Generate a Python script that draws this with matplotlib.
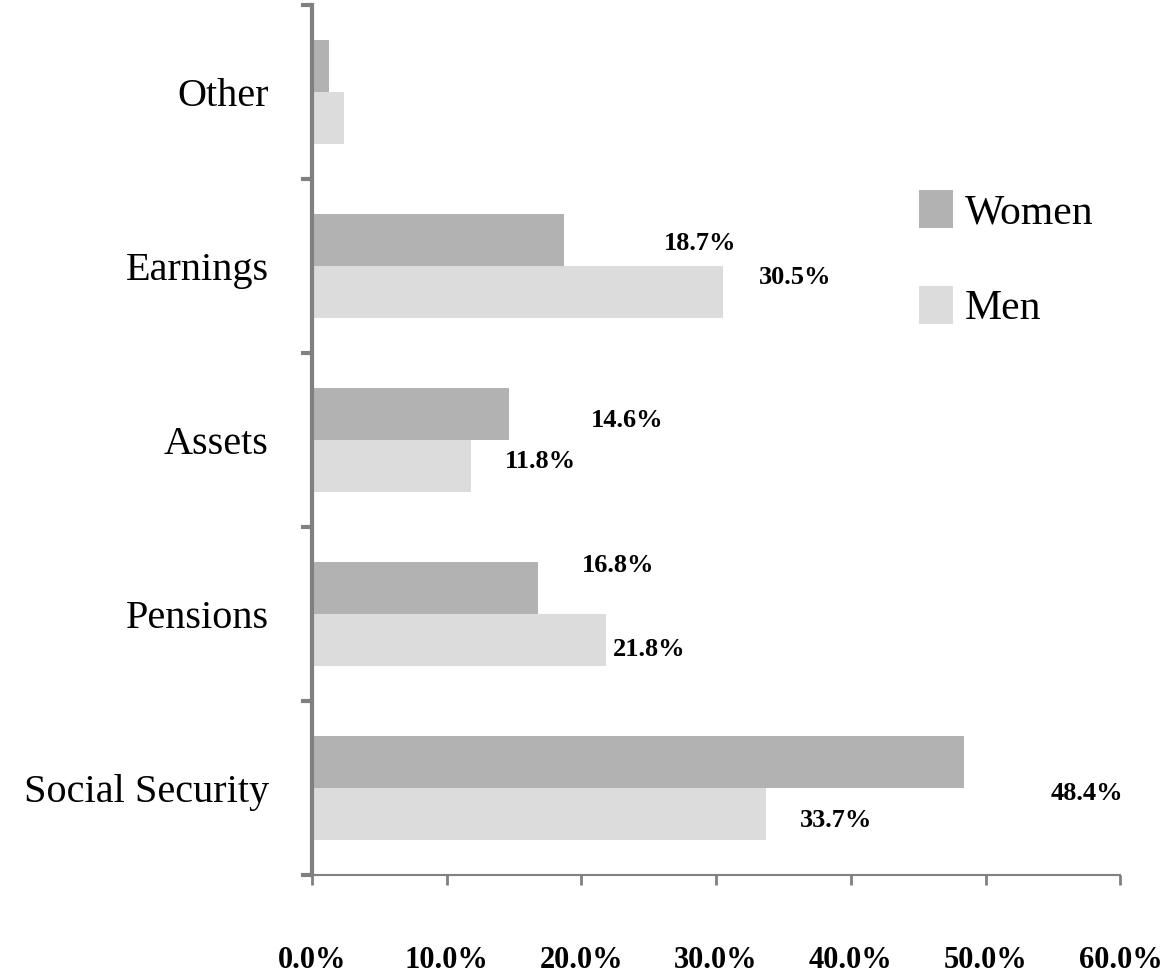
import matplotlib
matplotlib.use("Agg")
import matplotlib.pyplot as plt
import numpy as np

categories = ["Social Security", "Pensions", "Assets", "Earnings", "Other"]
women = [48.4, 16.8, 14.6, 18.7, 1.3]
men = [33.7, 21.8, 11.8, 30.5, 2.4]
women_labels = ["48.4%", "16.8%", "14.6%", "18.7%", None]
men_labels = ["33.7%", "21.8%", "11.8%", "30.5%", None]
# label centre positions as drawn in the original (x in axis units, y offset from category)
women_label_x = [57.5, 22.7, 23.4, 28.8, None]
men_label_x = [38.9, 25.0, 17.0, 35.9, None]
women_label_dy = [-0.03, 0.28, 0.115, 0.13, None]
men_label_dy = [-0.185, -0.205, -0.125, -0.065, None]
xticks = [0, 10, 20, 30, 40, 50, 60]

c_women = "#b2b2b2"
c_men = "#dcdcdc"
spine_c = "#808080"

fig = plt.figure(figsize=(11.72, 9.8), dpi=100)
ax = fig.add_axes([0.266, 0.107, 0.690, 0.888])

y = np.arange(len(categories))
h = 0.3
ax.barh(y + h / 2, women, height=h, color=c_women, label="Women")
ax.barh(y - h / 2, men, height=h, color=c_men, label="Men")

lab_font = dict(family="Liberation Serif", fontweight="bold", fontsize=19, color="black")
for i in range(len(categories)):
    if women_labels[i]:
        ax.text(women_label_x[i], y[i] + women_label_dy[i], women_labels[i],
                ha="center", va="center", **lab_font)
    if men_labels[i]:
        ax.text(men_label_x[i], y[i] + men_label_dy[i], men_labels[i],
                ha="center", va="center", **lab_font)

ax.set_xlim(0, 60)
ax.set_ylim(-0.5, len(categories) - 0.5)
ax.set_xticks(xticks)
ax.set_xticklabels([f"{t:.1f}%" for t in xticks], family="Liberation Serif",
                   fontweight="bold", fontsize=22)
ax.tick_params(axis="x", direction="out", length=7, width=2, color=spine_c, pad=44)

ax.set_yticks(np.arange(-0.5, len(categories), 1.0))
ax.set_yticklabels([])
ax.set_yticks(y, minor=True)
ax.set_yticklabels(categories, minor=True, family="Liberation Serif", fontsize=29)
ax.tick_params(axis="y", which="major", direction="out", length=8, width=3, color=spine_c)
ax.tick_params(axis="y", which="minor", length=0, pad=31)

for s in ["top", "right"]:
    ax.spines[s].set_visible(False)
for s in ["left", "bottom"]:
    ax.spines[s].set_color(spine_c)
    ax.spines[s].set_linewidth(3 if s == "left" else 1.5)

leg = ax.legend(loc="upper left", bbox_to_anchor=(0.705, 0.83), frameon=False,
                prop=dict(family="Liberation Serif", size=30),
                handlelength=0.8, handleheight=1.0, handletextpad=0.3, labelspacing=1.3)

fig.savefig("out.png", dpi=100, facecolor="white")
